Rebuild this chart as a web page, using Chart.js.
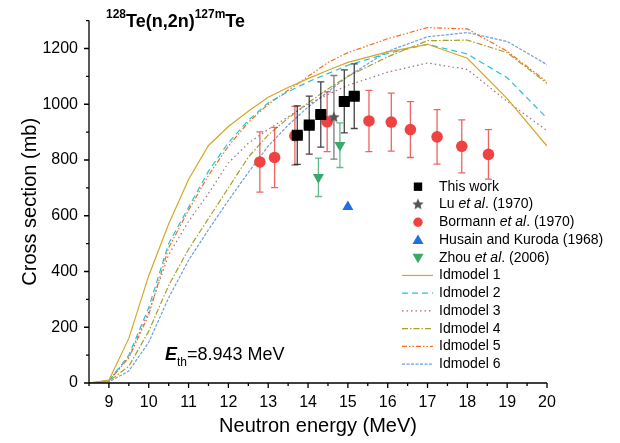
<!DOCTYPE html>
<html>
<head>
<meta charset="utf-8">
<script src="https://cdn.jsdelivr.net/npm/chart.js@4.4.0/dist/chart.umd.min.js"></script>
<style>
html,body{margin:0;padding:0;background:#fff;}
#wrap{width:620px;height:443px;position:relative;}
</style>
</head>
<body>
<div id="wrap"><canvas id="myChart" width="620" height="443"></canvas></div>
<script>
// energias de los modelos (MeV)
var energias = [8.5, 9, 9.5, 10, 10.5, 11, 11.5, 12, 12.5, 13, 13.5, 14, 14.5, 15, 16, 17, 18, 19, 20];
var idmodel1 = [0, 10, 160, 385, 570, 730, 852, 920, 975, 1025, 1060, 1092, 1122, 1150, 1188, 1215, 1165, 1020, 850];
var idmodel2 = [0, 8, 100, 270, 500, 630, 760, 862, 942, 1005, 1045, 1080, 1110, 1140, 1182, 1215, 1180, 1095, 950];
var idmodel3 = [0, 8, 95, 255, 460, 580, 680, 790, 860, 910, 955, 1000, 1035, 1068, 1115, 1148, 1125, 1010, 905];
var idmodel4 = [0, 6, 60, 186, 350, 480, 590, 700, 810, 890, 950, 1005, 1055, 1100, 1170, 1228, 1230, 1185, 1075];
var idmodel5 = [0, 8, 90, 245, 485, 620, 745, 850, 935, 1000, 1050, 1100, 1150, 1185, 1235, 1275, 1270, 1190, 1080];
var idmodel6 = [0, 4, 43, 146, 306, 440, 550, 655, 755, 850, 925, 990, 1045, 1100, 1190, 1242, 1257, 1225, 1142];

// este trabajo
var esteX = [13.73, 14.03, 14.32, 14.91, 15.16];
var esteY = [889, 925, 963, 1010, 1029];
var esteErrY = [105, 104, 117, 113, 116];
var esteErrX = [0.12, 0.12, 0.12, 0.12, 0.12];
// Lu et al. (1970)
var luX = [14.65];
var luY = [953];
var luErr = [150];
// Bormann et al. (1970)
var bormannX = [12.79, 13.16, 13.67, 14.48, 15.53, 16.09, 16.57, 17.24, 17.86, 18.53];
var bormannY = [793, 809, 887, 937, 940, 936, 909, 883, 849, 820];
var bormannErr = [108, 108, 105, 107, 110, 104, 100, 98, 95, 89];
// Husain and Kuroda (1968)
var husainX = [15.0];
var husainY = [632];
// Zhou et al. (2006)
var zhouX = [14.26, 14.80];
var zhouY = [738, 853];
var zhouErr = [69, 80];

var ticksX = [9, 10, 11, 12, 13, 14, 15, 16, 17, 18, 19, 20];
var ticksY = [0, 200, 400, 600, 800, 1000, 1200];

var fuente = "'Liberation Sans', Arial, sans-serif";

function puntos(xs, ys){
	var res = new Array();
	for(var i = 0;i<xs.length;i++){
		res.push({x: xs[i], y: ys[i]});
	}
	return res;
}

function crearEstrella(r, color){
	var c = document.createElement('canvas');
	c.width = c.height = 2*r+2;
	var g = c.getContext('2d');
	g.fillStyle = color;
	g.beginPath();
	for(var i = 0;i<10;i++){
		var rr = (i%2==0) ? r : r*0.45;
		var a = -Math.PI/2 + i*Math.PI/5;
		g.lineTo(r+1+rr*Math.cos(a), r+1+rr*Math.sin(a));
	}
	g.closePath();
	g.fill();
	return c;
}
var estrella = crearEstrella(6, '#555555');

var modelos = [
	{label: 'Idmodel 1', data: idmodel1, color: '#d6a628', dash: []},
	{label: 'Idmodel 2', data: idmodel2, color: '#22c4d4', dash: [6, 4]},
	{label: 'Idmodel 3', data: idmodel3, color: '#a07078', dash: [1.5, 3]},
	{label: 'Idmodel 4', data: idmodel4, color: '#a8a02a', dash: [6, 2, 1.5, 2]},
	{label: 'Idmodel 5', data: idmodel5, color: '#ff6a1a', dash: [5, 2, 1.5, 2, 1.5, 2]},
	{label: 'Idmodel 6', data: idmodel6, color: '#6aa0e0', dash: [3, 1.5]}
];

var datasets = [
	{label: 'This work', data: puntos(esteX, esteY), errY: esteErrY, errX: esteErrX, barColor: 'rgba(20,20,20,0.8)',
	 pointStyle: 'rect', pointRadius: 7.8, backgroundColor: '#000', borderColor: '#000', borderWidth: 0, order: 0},
	{label: 'Lu et al. (1970)', data: puntos(luX, luY), errY: luErr, barColor: 'rgba(90,90,90,0.8)',
	 pointStyle: estrella, pointRadius: 6, order: 1},
	{label: 'Bormann et al. (1970)', data: puntos(bormannX, bormannY), errY: bormannErr, barColor: 'rgba(235,60,60,0.8)',
	 pointStyle: 'circle', pointRadius: 5.8, backgroundColor: '#ef4242', borderColor: '#ef4242', borderWidth: 0, order: 2},
	{label: 'Husain and Kuroda (1968)', data: puntos(husainX, husainY),
	 pointStyle: 'triangle', pointRadius: 6.4, backgroundColor: '#1f6fdc', borderColor: '#1f6fdc', borderWidth: 0, order: 3},
	{label: 'Zhou et al. (2006)', data: puntos(zhouX, zhouY), errY: zhouErr, barColor: 'rgba(60,170,110,0.8)',
	 pointStyle: 'triangle', rotation: 180, pointRadius: 6.4, backgroundColor: '#3aa86c', borderColor: '#3aa86c', borderWidth: 0, order: 4}
];
for(var m = 0;m<modelos.length;m++){
	datasets.push({
		type: 'line', label: modelos[m].label, data: puntos(energias, modelos[m].data),
		borderColor: modelos[m].color, borderDash: modelos[m].dash, borderWidth: 1.2,
		pointRadius: 0, fill: false, tension: 0, order: 10 + m
	});
}

// barras de error antes de cada serie
var barrasPlugin = {
	id: 'barras',
	beforeDatasetDraw: function(chart, args){
		var ds = chart.data.datasets[args.index];
		if(!ds.errY) return;
		var ctx = chart.ctx;
		var sx = chart.scales.x, sy = chart.scales.y;
		ctx.save();
		ctx.strokeStyle = ds.barColor;
		ctx.lineWidth = 1.3;
		for(var i = 0;i<ds.data.length;i++){
			var p = ds.data[i];
			var px = sx.getPixelForValue(p.x);
			var py = sy.getPixelForValue(p.y);
			var t = sy.getPixelForValue(p.y + ds.errY[i]);
			var b = sy.getPixelForValue(p.y - ds.errY[i]);
			ctx.beginPath();
			ctx.moveTo(px, t); ctx.lineTo(px, b);
			ctx.moveTo(px-3.5, t); ctx.lineTo(px+3.5, t);
			ctx.moveTo(px-3.5, b); ctx.lineTo(px+3.5, b);
			if(ds.errX){
				var l = sx.getPixelForValue(p.x - ds.errX[i]);
				var r = sx.getPixelForValue(p.x + ds.errX[i]);
				ctx.moveTo(l, py); ctx.lineTo(r, py);
				ctx.moveTo(l, py-3.5); ctx.lineTo(l, py+3.5);
				ctx.moveTo(r, py-3.5); ctx.lineTo(r, py+3.5);
			}
			ctx.stroke();
		}
		ctx.restore();
	}
};

function escribir(ctx, x, y, partes){
	for(var i = 0;i<partes.length;i++){
		ctx.font = partes[i].f;
		ctx.fillText(partes[i].t, x, y + (partes[i].dy || 0));
		x += ctx.measureText(partes[i].t).width;
	}
}

function marcador(ctx, tipo, x, y, color){
	ctx.fillStyle = color;
	ctx.beginPath();
	if(tipo=='rect'){
		ctx.rect(x-4.2, y-4.2, 8.4, 8.4);
	}else if(tipo=='circle'){
		ctx.arc(x, y, 4.7, 0, Math.PI*2);
	}else if(tipo=='up'){
		ctx.moveTo(x, y-5.5); ctx.lineTo(x+5.5, y+4); ctx.lineTo(x-5.5, y+4);
	}else if(tipo=='down'){
		ctx.moveTo(x, y+5.5); ctx.lineTo(x+5.5, y-4); ctx.lineTo(x-5.5, y-4);
	}
	ctx.closePath();
	ctx.fill();
}

var textosPlugin = {
	id: 'textos',
	afterDraw: function(chart){
		var ctx = chart.ctx;
		var a = chart.chartArea;
		var sx = chart.scales.x, sy = chart.scales.y;
		ctx.save();
		// ejes y marcas
		ctx.strokeStyle = '#000';
		ctx.lineWidth = 1.3;
		ctx.beginPath();
		ctx.moveTo(a.left, a.top); ctx.lineTo(a.left, a.bottom); ctx.lineTo(a.right, a.bottom);
		for(var v = 8.5;v<=20;v+=0.5){
			var px = sx.getPixelForValue(v);
			var largo = (v % 1 == 0) ? 5 : 3;
			ctx.moveTo(px, a.bottom); ctx.lineTo(px, a.bottom + largo);
		}
		for(var w = 0;w<=1300;w+=100){
			var py = sy.getPixelForValue(w);
			var largoY = (w % 200 == 0) ? 5 : 3;
			ctx.moveTo(a.left, py); ctx.lineTo(a.left - largoY, py);
		}
		ctx.stroke();

		ctx.fillStyle = '#000';
		ctx.textBaseline = 'alphabetic';
		// titulo
		escribir(ctx, 106, 27, [
			{t: '128', f: 'bold 12px ' + fuente, dy: -9},
			{t: 'Te(n,2n)', f: 'bold 18px ' + fuente},
			{t: '127m', f: 'bold 12px ' + fuente, dy: -9},
			{t: 'Te', f: 'bold 18px ' + fuente}
		]);
		// umbral
		escribir(ctx, 165, 360, [
			{t: 'E', f: 'italic bold 18px ' + fuente},
			{t: 'th', f: '12px ' + fuente, dy: 6},
			{t: '=8.943 MeV', f: '18px ' + fuente}
		]);

		// leyenda
		var y0 = 186.7, paso = 17.75;
		var mk = [
			{tipo: 'rect', color: '#000', partes: [{t: 'This work'}]},
			{tipo: 'star', color: '#555', partes: [{t: 'Lu '}, {t: 'et al', i: true}, {t: '. (1970)'}]},
			{tipo: 'circle', color: '#ef4242', partes: [{t: 'Bormann '}, {t: 'et al', i: true}, {t: '. (1970)'}]},
			{tipo: 'up', color: '#1f6fdc', partes: [{t: 'Husain and Kuroda (1968)'}]},
			{tipo: 'down', color: '#3aa86c', partes: [{t: 'Zhou '}, {t: 'et al', i: true}, {t: '. (2006)'}]}
		];
		ctx.textBaseline = 'middle';
		for(var k = 0;k<mk.length;k++){
			var yy = y0 + k*paso;
			if(mk[k].tipo=='star'){
				ctx.drawImage(estrella, 418 - estrella.width/2, yy - estrella.height/2);
			}else{
				marcador(ctx, mk[k].tipo, 418, yy, mk[k].color);
			}
			ctx.fillStyle = '#000';
			var partes = mk[k].partes.map(function(p){
				return {t: p.t, f: (p.i ? 'italic ' : '') + '14px ' + fuente};
			});
			escribir(ctx, 439, yy, partes);
		}
		for(var n = 0;n<modelos.length;n++){
			var yl = y0 + (mk.length + n)*paso;
			ctx.strokeStyle = modelos[n].color;
			ctx.lineWidth = 1.2;
			ctx.setLineDash(modelos[n].dash);
			ctx.beginPath();
			ctx.moveTo(402, yl); ctx.lineTo(433, yl);
			ctx.stroke();
			ctx.setLineDash([]);
			ctx.fillStyle = '#000';
			escribir(ctx, 439, yl, [{t: modelos[n].label, f: '14px ' + fuente}]);
		}
		ctx.restore();
	}
};

new Chart(document.getElementById("myChart"), {
	type: 'scatter',
	data: {datasets: datasets},
	options: {
		responsive: false,
		animation: false,
		devicePixelRatio: 1,
		layout: {padding: {top: 2, right: 73, left: 0, bottom: 0}},
		plugins: {legend: {display: false}, tooltip: {enabled: false}},
		scales: {
			x: {
				type: 'linear', min: 8.5, max: 20,
				afterBuildTicks: function(s){ s.ticks = ticksX.map(function(v){ return {value: v}; }); },
				afterFit: function(s){ s.height = 60; },
				grid: {display: false, drawTicks: false},
				border: {display: false},
				ticks: {padding: 10, color: '#000', font: {family: fuente, size: 16}, maxRotation: 0,
					callback: function(v){ return String(v); }},
				title: {display: true, text: 'Neutron energy (MeV)', color: '#000', font: {family: fuente, size: 20}, padding: {top: 0, bottom: 5}}
			},
			y: {
				type: 'linear', min: 0, max: 1300,
				afterBuildTicks: function(s){ s.ticks = ticksY.map(function(v){ return {value: v}; }); },
				afterFit: function(s){ s.width = 89; },
				grid: {display: false, drawTicks: false},
				border: {display: false},
				ticks: {padding: 11, color: '#000', font: {family: fuente, size: 16},
					callback: function(v){ return String(v); }},
				title: {display: true, text: 'Cross section (mb)', color: '#000', font: {family: fuente, size: 20}, padding: {top: 18, bottom: 0}}
			}
		}
	},
	plugins: [barrasPlugin, textosPlugin]
});
</script>
</body>
</html>
